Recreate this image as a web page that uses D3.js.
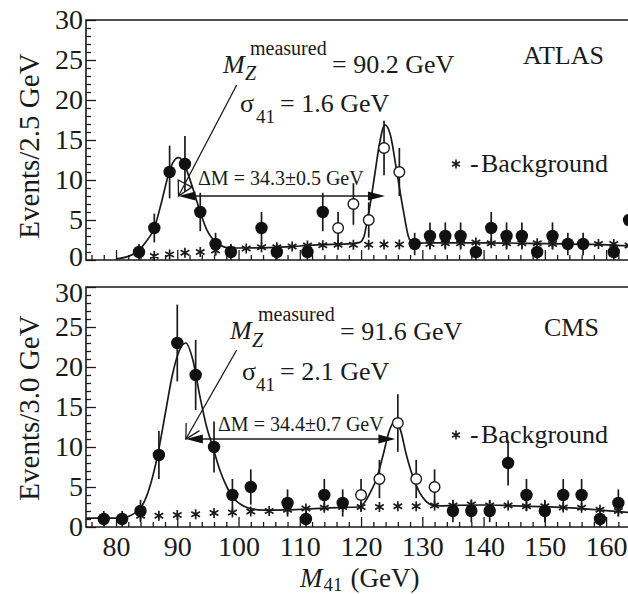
<!DOCTYPE html>
<html><head><meta charset="utf-8">
<script src="https://cdn.jsdelivr.net/npm/d3@7"></script>
<style>
body{margin:0;background:#fff}
svg{display:block}
text{font-family:"Liberation Serif","Times New Roman",serif;fill:#1a1a1a}
</style>
</head><body><svg id="c" width="628" height="594"></svg>
<script>
// ---------------- DATA ----------------
// ATLAS (events / 2.5 GeV)
const atlasMass   = [83.75, 86.25, 88.75, 91.25, 93.75, 96.25, 98.75, 103.75, 106.25, 111.25, 113.75, 128.75, 131.25, 133.75, 136.25, 138.75, 141.25, 143.75, 146.25, 148.75, 151.25, 153.75, 156.25, 161.25, 163.75];
const atlasEvents = [1, 4, 11, 12, 6, 2, 1, 4, 1, 1, 6, 2, 3, 3, 3, 1, 4, 3, 3, 1, 3, 2, 2, 1, 5];
const atlasErr    = [1, 1.8, 3.3, 3.5, 2.4, 1.4, 1, 2, 1, 1, 2.4, 1.4, 1.7, 1.7, 1.7, 1, 2, 1.7, 1.7, 1, 1.7, 1.4, 1.4, 1, 2.2];
const atlasSigMass   = [116.25, 118.75, 121.25, 123.75, 126.25];
const atlasSigEvents = [4, 7, 5, 14, 11];
const atlasSigErr    = [2, 2.6, 2.2, 3.4, 3.0];
const atlasBkgMass   = [86.25, 88.75, 91.25, 93.75, 96.25, 98.75, 101.25, 103.75, 106.25, 108.75, 111.25, 113.75, 116.25, 118.75, 121.25, 123.75, 126.25, 128.75, 131.25, 133.75, 136.25, 138.75, 141.25, 143.75, 146.25, 148.75, 151.25, 153.75, 156.25, 158.75, 161.25, 163.75];
const atlasBkgEvents = [0.5, 0.7, 0.9, 1.0, 1.2, 1.3, 1.45, 1.6, 1.6, 1.7, 1.8, 1.85, 1.9, 1.9, 1.9, 1.95, 1.95, 2.0, 2.0, 2.1, 2.1, 2.2, 2.1, 2.1, 2.1, 2.1, 2.0, 2.0, 2.0, 2.0, 2.0, 1.8];
const atlasFitMass   = [80, 82, 83.7, 84.8, 86.25, 87.35, 88.5, 89.3, 90.2, 91.0, 91.5, 92.6, 93.75, 94.8, 95.9, 97.4, 98.5, 100, 105, 110, 113, 118.5, 119.8, 120.5, 121.0, 121.6, 122.3, 123.0, 123.9, 124.8, 125.8, 126.9, 127.9, 128.8, 132, 140, 150, 158, 163.9];
const atlasFitEvents = [0.15, 0.45, 1.2, 2.2, 4.0, 7.0, 10.5, 12.2, 12.8, 12.2, 11.3, 8.8, 6.0, 3.8, 2.5, 1.7, 1.5, 1.5, 1.55, 1.75, 1.9, 2.05, 2.2, 3.0, 4.9, 7.5, 11.0, 14.5, 16.9, 15.6, 11.2, 6.2, 2.6, 2.1, 2.15, 2.15, 2.05, 1.95, 1.75];

// CMS (events / 3.0 GeV)
const cmsMass   = [78, 81, 84, 87, 90, 93, 96, 99, 102, 108, 111, 114, 117, 135, 138, 141, 144, 147, 150, 153, 156, 159, 162];
const cmsEvents = [1, 1, 2, 9, 23, 19, 10, 4, 5, 3, 1, 4, 3, 2, 2, 2, 8, 4, 2, 4, 4, 1, 3];
const cmsErr    = [1, 1, 1.4, 3, 4.8, 4.4, 3.2, 2, 2.2, 1.7, 1, 2, 1.7, 1.4, 1.4, 1.4, 2.8, 2, 1.4, 2, 2, 1, 1.7];
const cmsSigMass   = [120, 123, 126, 129, 132];
const cmsSigEvents = [4, 6, 13, 6, 5];
const cmsSigErr    = [2, 2.4, 3.6, 2.4, 2.2];
const cmsBkgMass   = [84, 87, 90, 93, 96, 99, 102, 105, 108, 111, 114, 117, 120, 123, 126, 129, 132, 135, 138, 141, 144, 147, 150, 153, 156, 159, 162];
const cmsBkgEvents = [1.4, 1.4, 1.5, 1.6, 1.75, 1.8, 1.95, 2.0, 2.15, 2.3, 2.4, 2.5, 2.5, 2.5, 2.6, 2.6, 2.7, 2.7, 2.8, 2.7, 2.7, 2.6, 2.6, 2.45, 2.4, 2.15, 2.0];
const cmsFitMass   = [75.1, 78, 80, 81.5, 82.3, 83.5, 84.5, 85.7, 86.8, 88, 89.2, 90.3, 91.4, 92.5, 93.7, 94.8, 95.8, 97, 98.1, 99.2, 100.2, 101.9, 104, 108, 111, 114, 117, 119.5, 120.5, 121.5, 122.6, 123.6, 124.6, 125.5, 126.4, 127.4, 128.5, 129.5, 130.5, 131.8, 133, 135, 140, 145, 150, 155, 160, 163.9];
const cmsFitEvents = [1.1, 1.1, 1.1, 1.2, 1.4, 2.0, 3.0, 5.5, 9, 14, 19, 22, 23, 21, 16.3, 12.5, 10, 7, 5, 3.6, 2.9, 2.3, 2.1, 2.15, 2.25, 2.35, 2.45, 2.5, 3.0, 4.3, 6.2, 9, 12, 13.2, 12.2, 9, 6.2, 4.4, 3.3, 2.7, 2.65, 2.7, 2.75, 2.65, 2.55, 2.35, 2.05, 1.8];

// ticks / labels
const xMajorTicks = [80, 90, 100, 110, 120, 130, 140, 150, 160];
const xMinorTicks = [76, 78, 82, 84, 86, 88, 92, 94, 96, 98, 102, 104, 106, 108, 112, 114, 116, 118, 122, 124, 126, 128, 132, 134, 136, 138, 142, 144, 146, 148, 152, 154, 156, 158, 162];
const yMajorTicks = [0, 5, 10, 15, 20, 25, 30];
const yMinorTicks = [1,2,3,4,6,7,8,9,11,12,13,14,16,17,18,19,21,22,23,24,26,27,28,29];
const yTitles = ["Events/2.5 GeV", "Events/3.0 GeV"];
const experiments = ["ATLAS", "CMS"];
const mzMeasured = [90.2, 91.6];
const sigma41 = [1.6, 2.1];
const deltaM = ["34.3±0.5", "34.4±0.7"];
const arrowFrom = [90.2, 91.4];
const arrowTo = [123.9, 125.6];
const arrowLevel = [8, 11];

// ---------------- DRAW ----------------
const svg = d3.select("#c");
const FONT = '"Liberation Serif","Times New Roman",serif';
const x = d3.scaleLinear().domain([75.1, 163.9]).range([86, 630]);

const panels = [
  {mass: atlasMass, ev: atlasEvents, err: atlasErr, sMass: atlasSigMass, sEv: atlasSigEvents, sErr: atlasSigErr,
   bMass: atlasBkgMass, bEv: atlasBkgEvents, fMass: atlasFitMass, fEv: atlasFitEvents,
   top: 20, bottom: 260, labels: false, k: 0, titleY: 146},
  {mass: cmsMass, ev: cmsEvents, err: cmsErr, sMass: cmsSigMass, sEv: cmsSigEvents, sErr: cmsSigErr,
   bMass: cmsBkgMass, bEv: cmsBkgEvents, fMass: cmsFitMass, fEv: cmsFitEvents,
   top: 287, bottom: 527, labels: true, k: 1, titleY: 408}
];

function star(r) {
  const a = r * 0.866, b = r * 0.5;
  return `M0,${-r}L0,${r}M${-a},${-b}L${a},${b}M${-a},${b}L${a},${-b}`;
}

panels.forEach(p => {
  const k = p.k;
  const y = d3.scaleLinear().domain([0, 30]).range([p.bottom, p.top]);
  const g = svg.append("g");

  const styleAxis = sel => {
    sel.select(".domain").remove();
    sel.attr("font-size", 28).attr("font-family", FONT);
    sel.selectAll("line").attr("stroke", "#1a1a1a").attr("stroke-width", 1.3);
    sel.selectAll("text").attr("fill", "#1a1a1a");
  };
  const yAx = g.append("g").attr("transform", "translate(86,0)")
    .call(d3.axisLeft(y).tickValues(yMajorTicks).tickSize(-10).tickPadding(3).tickFormat(d3.format("d")))
    .call(styleAxis);
  // keep the labels at the panel junction apart (as in the reference)
  yAx.selectAll(".tick text")
    .attr("dy", d => (k === 0 && d === 0) ? "0.18em" : (k === 1 && d === 30) ? "0.5em" : "0.32em");
  g.append("g").attr("transform", "translate(86,0)")
    .call(d3.axisLeft(y).tickValues(yMinorTicks).tickSize(-5).tickFormat(""))
    .call(styleAxis);
  g.append("g").attr("transform", `translate(0,${p.bottom})`)
    .call(d3.axisBottom(x).tickValues(xMajorTicks).tickSize(-10).tickPadding(9)
      .tickFormat(p.labels ? d3.format("d") : ""))
    .call(styleAxis);
  g.append("g").attr("transform", `translate(0,${p.bottom})`)
    .call(d3.axisBottom(x).tickValues(xMinorTicks).tickSize(-5).tickFormat(""))
    .call(styleAxis);

  // frame (left, top, bottom)
  g.append("path")
    .attr("d", `M630,${p.top}H86V${p.bottom}H630`)
    .attr("fill", "none").attr("stroke", "#1a1a1a").attr("stroke-width", 1.6);

  // y title
  g.append("text")
    .attr("transform", `translate(39,${p.titleY}) rotate(-90)`)
    .attr("text-anchor", "middle").attr("font-size", 29)
    .text(yTitles[k]);

  // fit curve
  const fit = p.fMass.map((m, i) => [m, p.fEv[i]]);
  g.append("path").datum(fit)
    .attr("d", d3.line().x(d => x(d[0])).y(d => y(d[1])).curve(d3.curveMonotoneX))
    .attr("fill", "none").attr("stroke", "#1a1a1a").attr("stroke-width", 1.7);

  // background stars
  g.selectAll(".bk").data(p.bMass.map((m, i) => [m, p.bEv[i]])).enter().append("path")
    .attr("transform", d => `translate(${x(d[0])},${y(d[1])})`)
    .attr("d", star(5)).attr("stroke", "#1a1a1a").attr("stroke-width", 1.7).attr("fill", "none");

  // error bars
  const allPts = p.mass.map((m, i) => [m, p.ev[i], p.err[i]])
    .concat(p.sMass.map((m, i) => [m, p.sEv[i], p.sErr[i]]));
  g.selectAll(".eb").data(allPts).enter().append("line")
    .attr("x1", d => x(d[0])).attr("x2", d => x(d[0]))
    .attr("y1", d => y(Math.max(0, d[1] - d[2]))).attr("y2", d => y(d[1] + d[2]))
    .attr("stroke", "#1a1a1a").attr("stroke-width", 1.7);

  // filled data points
  g.selectAll(".pt").data(p.mass.map((m, i) => [m, p.ev[i]])).enter().append("circle")
    .attr("cx", d => x(d[0])).attr("cy", d => y(d[1])).attr("r", 6.2).attr("fill", "#111");
  // open (signal) points
  g.selectAll(".op").data(p.sMass.map((m, i) => [m, p.sEv[i]])).enter().append("circle")
    .attr("cx", d => x(d[0])).attr("cy", d => y(d[1])).attr("r", 5.3)
    .attr("fill", "#fff").attr("stroke", "#1a1a1a").attr("stroke-width", 1.4);

  // ---- annotations ----
  const dy = p.top - 20;
  const ann = g.append("g");
  ann.append("text").attr("x", k ? 230 : 223).attr("y", dy + (k ? 72 : 73)).attr("font-size", 26)
    .attr("font-style", "italic").text("M");
  ann.append("text").attr("x", k ? 252 : 245).attr("y", dy + 80).attr("font-size", 20)
    .attr("font-style", "italic").text("Z");
  ann.append("text").attr("x", k ? 258 : 250).attr("y", dy + (k ? 54 : 55)).attr("font-size", 20).text("measured");
  ann.append("text").attr("x", k ? 340 : 332).attr("y", dy + 73).attr("font-size", 26)
    .text(`= ${mzMeasured[k].toFixed(1)} GeV`);
  ann.append("text").attr("x", k ? 242 : 240).attr("y", dy + 112 + (k ? 1 : 0)).attr("font-size", 26).text("σ");
  ann.append("text").attr("x", 256).attr("y", dy + 123 + (k ? 1 : 0)).attr("font-size", 19).text("41");
  ann.append("text").attr("x", 280).attr("y", dy + 112 + (k ? 1 : 0)).attr("font-size", 26)
    .text(`= ${sigma41[k].toFixed(1)} GeV`);
  ann.append("text").attr("x", k ? 544 : 523).attr("y", dy + 64 + (k ? 5 : 0)).attr("font-size", 26).text(experiments[k]);
  ann.append("path").attr("transform", `translate(456,${dy + 164 + (k ? 4 : 0)})`)
    .attr("d", star(4.5)).attr("stroke", "#1a1a1a").attr("stroke-width", 1.6).attr("fill", "none");
  ann.append("text").attr("x", 470).attr("y", dy + 172 + (k ? 4 : 0)).attr("font-size", 26).text("-");
  ann.append("text").attr("x", 481).attr("y", dy + 172 + (k ? 4 : 0)).attr("font-size", 26).text("Background");

  // Delta M text & double arrow
  const ay = y(arrowLevel[k]);
  const ax1 = x(arrowFrom[k]), ax2 = x(arrowTo[k]);
  ann.append("text").attr("x", k ? 218 : 198).attr("y", ay - (k ? 8 : 11)).attr("font-size", 20)
    .text(`ΔM = ${deltaM[k]} GeV`);
  ann.append("line").attr("x1", ax1 + 10).attr("x2", ax2 - 10).attr("y1", ay).attr("y2", ay)
    .attr("stroke", "#1a1a1a").attr("stroke-width", 1.6);
  ann.append("path").attr("d", `M${ax1},${ay}L${ax1 + 17},${ay - 4.5}L${ax1 + 17},${ay + 4.5}Z`).attr("fill", "#111");
  ann.append("path").attr("d", `M${ax2},${ay}L${ax2 - 17},${ay - 4.5}L${ax2 - 17},${ay + 4.5}Z`).attr("fill", "#111");

  // pointer from label to peak
  const px0 = 236.7, py0 = dy + (k ? 83 : 85);
  const tx = ax1, ty = ay;
  ann.append("line").attr("x1", px0).attr("y1", py0).attr("x2", tx).attr("y2", ty)
    .attr("stroke", "#1a1a1a").attr("stroke-width", 1.3);
  const ang = Math.atan2(py0 - ty, px0 - tx), L = 16, spread = 0.5;
  const a1 = [tx + L * Math.cos(ang + spread), ty + L * Math.sin(ang + spread)];
  const a2 = [tx + L * Math.cos(ang - spread), ty + L * Math.sin(ang - spread)];
  ann.append("path")
    .attr("d", `M${a1[0]},${a1[1]}L${tx},${ty}L${a2[0]},${a2[1]}` + (k ? "" : "Z"))
    .attr("fill", "none").attr("stroke", "#1a1a1a").attr("stroke-width", 1.3);
});

// x axis title
const xt = svg.append("text").attr("x", 300).attr("y", 587).attr("font-size", 27);
xt.append("tspan").attr("font-style", "italic").text("M");
xt.append("tspan").attr("font-size", 19).attr("dy", 4).attr("dx", 1).text("41");
xt.append("tspan").attr("dy", -4).attr("dx", 8).text("(GeV)");
</script></body></html>
